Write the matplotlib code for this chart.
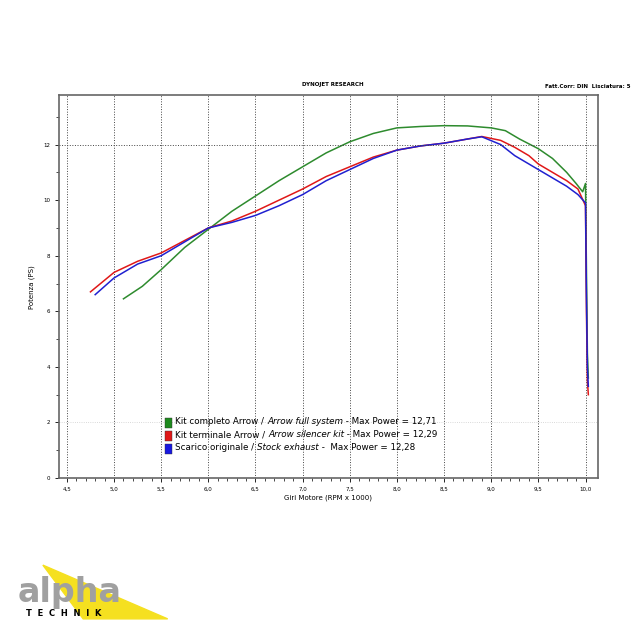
import matplotlib.pyplot as plt
import numpy as np
from matplotlib.patches import Polygon

rpm_green = [5.1, 5.3, 5.5, 5.75, 6.0, 6.25, 6.5, 6.75, 7.0, 7.25, 7.5, 7.75, 8.0, 8.25, 8.5, 8.75, 9.0, 9.15, 9.3, 9.5, 9.65, 9.8, 9.9, 9.97, 10.0, 10.01, 10.02, 10.03]
pw_green = [6.45, 6.9, 7.5, 8.3, 8.95, 9.6, 10.15, 10.7, 11.2, 11.7, 12.1, 12.4, 12.6, 12.65, 12.68, 12.67, 12.6, 12.5, 12.2, 11.85, 11.5, 11.0, 10.6, 10.3, 10.6, 7.5, 4.5, 3.6]
rpm_red = [4.75, 5.0, 5.25, 5.5, 5.75, 6.0, 6.25, 6.5, 6.75, 7.0, 7.25, 7.5, 7.75, 8.0, 8.25, 8.5, 8.75, 8.9, 9.1, 9.25, 9.4, 9.5, 9.65, 9.8, 9.92, 10.0, 10.01, 10.02, 10.03]
pw_red = [6.7, 7.4, 7.8, 8.1, 8.55, 9.0, 9.25, 9.6, 10.0, 10.4, 10.85, 11.2, 11.55, 11.8, 11.95, 12.05, 12.2, 12.29, 12.15, 11.9, 11.6, 11.3, 11.0, 10.7, 10.4, 9.8, 6.0, 3.5, 3.0]
rpm_blue = [4.8, 5.0, 5.25, 5.5, 5.75, 6.0, 6.25, 6.5, 6.75, 7.0, 7.25, 7.5, 7.75, 8.0, 8.25, 8.5, 8.75, 8.9, 9.1, 9.25, 9.4, 9.5, 9.65, 9.8, 9.92, 10.0, 10.01, 10.02, 10.03]
pw_blue = [6.6, 7.2, 7.7, 8.0, 8.5, 9.0, 9.2, 9.45, 9.8, 10.2, 10.7, 11.1, 11.5, 11.8, 11.95, 12.05, 12.2, 12.28, 12.0, 11.6, 11.3, 11.1, 10.8, 10.5, 10.2, 9.9, 6.5, 4.0, 3.3]

labels = [("Kit completo Arrow / ", "Arrow full system", " - Max Power = 12,71", "#1e8a1e"),
          ("Kit terminale Arrow / ", "Arrow silencer kit", " - Max Power = 12,29", "#e01818"),
          ("Scarico originale / ", "Stock exhaust", " -  Max Power = 12,28", "#1818e0")]

fig = plt.figure(figsize=(6.4, 6.4), dpi=100)
ax = fig.add_axes([0.092, 0.253, 0.842, 0.598])
ax.plot(rpm_green, pw_green, color="#2e8b2e", lw=1.1)
ax.plot(rpm_red, pw_red, color="#e01818", lw=1.1)
ax.plot(rpm_blue, pw_blue, color="#2020d0", lw=1.1)
ax.set_xlim(4.415, 10.13)
ax.set_ylim(0, 13.77)
xt = np.arange(4.5, 10.01, 0.5)
ax.set_xticks(xt)
ax.set_xticklabels([f"{v:.1f}".replace(".", ",") for v in xt], fontsize=4)
ax.set_xticks(np.arange(4.5, 10.1, 0.1), minor=True)
ax.set_yticks(range(0, 13, 2))
ax.set_yticklabels([str(v) for v in range(0, 13, 2)], fontsize=4)
ax.set_yticks(range(1, 14, 2), minor=True)
ax.tick_params(length=3, width=0.6)
ax.tick_params(which="minor", length=2, width=0.5)
ax.xaxis.grid(True, ls=":", color="#444", lw=0.7)
ax.axhline(12, ls=":", color="#444", lw=0.7)
ax.axhline(2, ls=":", color="#ccc", lw=0.6)
for s in ax.spines.values():
    s.set_linewidth(1.2)
    s.set_color("#666")
ax.set_xlabel("Giri Motore (RPM x 1000)", fontsize=5, labelpad=2)
ax.set_ylabel("Potenza (PS)", fontsize=5, labelpad=6)
fig.text(0.52, 0.865, "DYNOJET RESEARCH", fontsize=4, ha="center", weight="bold")
fig.text(0.985, 0.862, "Fatt.Corr: DIN  Lisciatura: 5", fontsize=4, ha="right", weight="bold")

for i, (a, b, c, col) in enumerate(labels):
    y = 0.337 - i * 0.02
    fig.patches.append(plt.Rectangle((0.258, y - 0.006), 0.011, 0.016, transform=fig.transFigure, color=col, ec="#333", lw=0.3))
    t = fig.text(0.274, y, a, fontsize=6.3)
    fig.canvas.draw()
    bb = t.get_window_extent()
    t2 = fig.text(bb.x1 / 640, y, b, fontsize=6.3, style="italic")
    bb2 = t2.get_window_extent(fig.canvas.get_renderer())
    fig.text(bb2.x1 / 640, y, c, fontsize=6.3)

# logo
fig.patches.append(Polygon([(0.067, 0.117), (0.262, 0.033), (0.13, 0.033)], closed=True, transform=fig.transFigure, color="#f5e020", zorder=0))
fig.text(0.028, 0.06, "alpha", fontsize=24, color="#a0a0a0", weight="bold", family="DejaVu Sans", zorder=2)
fig.text(0.04, 0.038, "T  E  C  H  N  I  K", fontsize=6, color="black", weight="bold", zorder=2)

fig.savefig("out.png", dpi=100)
